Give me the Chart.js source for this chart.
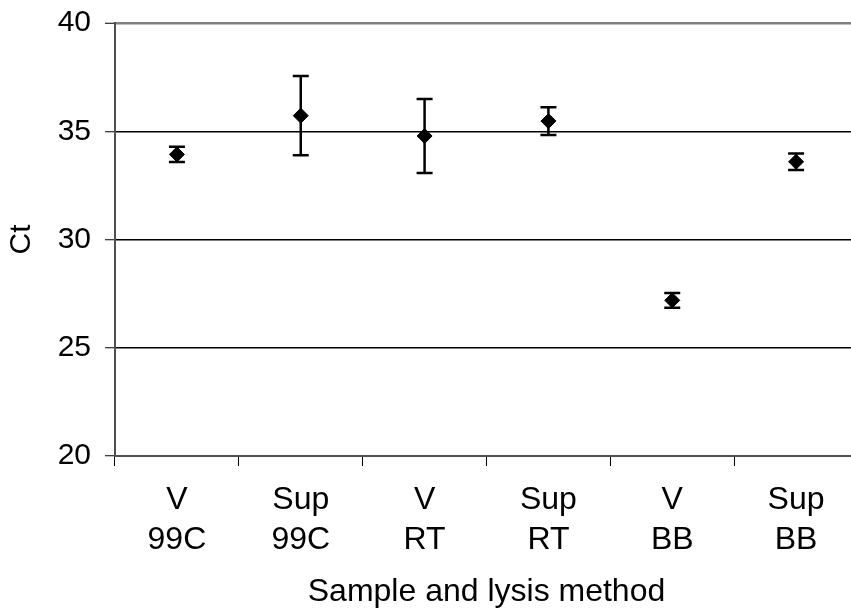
<!DOCTYPE html>
<html>
<head>
<meta charset="utf-8">
<script src="https://cdn.jsdelivr.net/npm/chart.js@4/dist/chart.umd.min.js"></script>
<style>
  html, body { margin: 0; padding: 0; background: #fff; overflow: hidden; }
  canvas { display: block; }
</style>
</head>
<body>
<canvas id="chartCt" width="858" height="613"></canvas>
<script>
// Ct by sample and lysis method
var sampleLabels = [["V", "99C"], ["Sup", "99C"], ["V", "RT"], ["Sup", "RT"], ["V", "BB"], ["Sup", "BB"]];
var ctMean = [33.93, 35.72, 34.78, 35.47, 27.19, 33.59];
var ctErr = [0.35, 1.83, 1.71, 0.64, 0.34, 0.38];
var yTicks = [20, 25, 30, 35, 40];

var fontFamily = "'Liberation Sans', Arial, Helvetica, sans-serif";

// error bars drawn through the y scale
var errorBars = {
    id: "errorBars",
    beforeDatasetsDraw: function(chart) {
        var ctx = chart.ctx;
        var yScale = chart.scales.y;
        var meta = chart.getDatasetMeta(0);
        ctx.save();
        ctx.strokeStyle = "#000";
        ctx.lineWidth = 2.5;
        meta.data.forEach(function(pt, i) {
            var x = pt.x;
            var yHi = yScale.getPixelForValue(ctMean[i] + ctErr[i]);
            var yLo = yScale.getPixelForValue(ctMean[i] - ctErr[i]);
            ctx.beginPath();
            ctx.moveTo(x, yHi);
            ctx.lineTo(x, yLo);
            ctx.moveTo(x - 8, yHi);
            ctx.lineTo(x + 8, yHi);
            ctx.moveTo(x - 8, yLo);
            ctx.lineTo(x + 8, yLo);
            ctx.stroke();
        });
        ctx.restore();
    }
};

var chartCt = new Chart(document.getElementById("chartCt").getContext("2d"), {
    type: "line",
    data: {
        labels: sampleLabels,
        datasets: [{
            data: ctMean,
            showLine: false,
            pointStyle: "rectRot",
            pointRadius: 7.5,
            pointBackgroundColor: "#000",
            pointBorderColor: "#000",
            pointBorderWidth: 1
        }]
    },
    options: {
        responsive: false,
        animation: false,
        layout: { autoPadding: false, padding: { top: 23, left: 0, right: 0, bottom: 0 } },
        plugins: {
            legend: { display: false },
            tooltip: { enabled: false }
        },
        scales: {
            x: {
                type: "category",
                offset: true,
                grid: {
                    offset: true,
                    drawOnChartArea: false,
                    drawTicks: true,
                    tickLength: 10,
                    tickColor: "#000",
                    tickWidth: 1
                },
                border: { color: "#505050", width: 2 },
                ticks: {
                    color: "#000",
                    font: { family: fontFamily, size: 32, lineHeight: 1.25 },
                    padding: 14,
                    maxRotation: 0,
                    autoSkip: false
                },
                title: {
                    display: true,
                    text: "Sample and lysis method",
                    color: "#000",
                    font: { family: fontFamily, size: 32 },
                    padding: { top: 0, bottom: 2 }
                },
                afterFit: function(scale) {
                    scale.height = 157;
                    scale.paddingLeft = 0;
                    scale.paddingRight = 0;
                }
            },
            y: {
                min: 20,
                max: 40,
                afterBuildTicks: function(scale) {
                    scale.ticks = yTicks.map(function(v) { return { value: v }; });
                },
                grid: {
                    color: function(c) { return c.tick && c.tick.value === 40 ? "#808080" : "#000"; },
                    lineWidth: function(c) { return c.tick && c.tick.value === 40 ? 2.5 : 1.5; },
                    tickLength: 10,
                    tickColor: "#000",
                    tickWidth: 1
                },
                border: { color: "#505050", width: 2 },
                ticks: {
                    color: "#000",
                    font: { family: fontFamily, size: 30 },
                    padding: 14
                },
                title: {
                    display: true,
                    text: "Ct",
                    color: "#000",
                    font: { family: fontFamily, size: 30 },
                    padding: { top: 4, bottom: 0 }
                },
                afterFit: function(scale) {
                    scale.width = 115;
                    scale.paddingTop = 0;
                    scale.paddingBottom = 0;
                }
            }
        }
    },
    plugins: [errorBars]
});
</script>
</body>
</html>
